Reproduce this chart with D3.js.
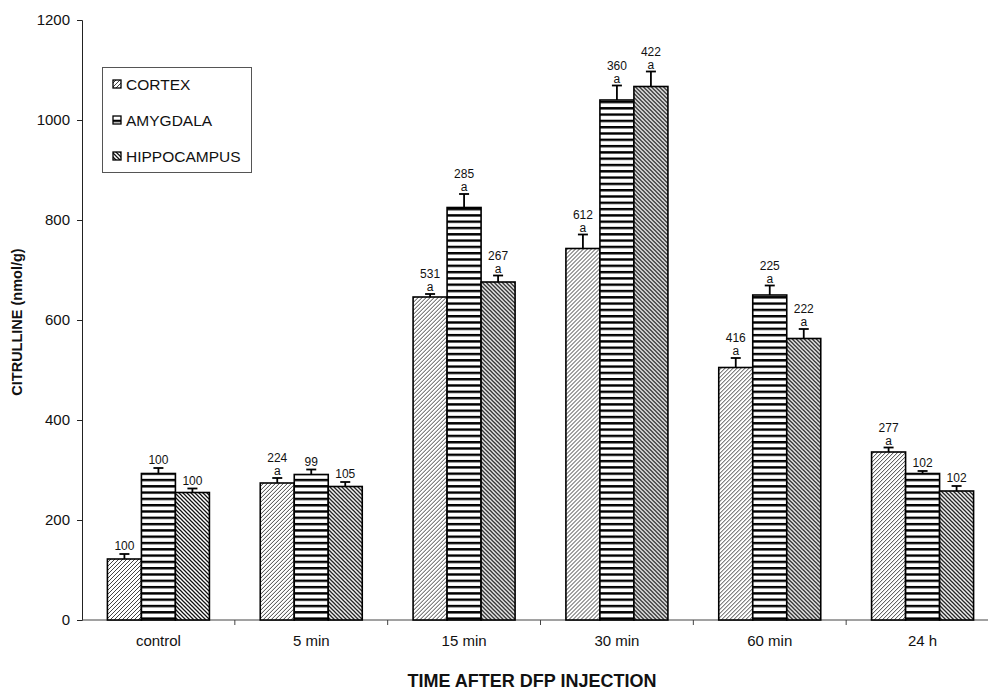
<!DOCTYPE html>
<html>
<head>
<meta charset="utf-8">
<script src="https://cdn.jsdelivr.net/npm/d3@7"></script>
<style>
  html, body { margin: 0; padding: 0; background: #fff; }
  svg { display: block; font-family: "Liberation Sans", Arial, sans-serif; }
</style>
</head>
<body>
<svg id="chart" width="988" height="690"></svg>
<script>
// ---------- data ----------
const categories = ["control", "5 min", "15 min", "30 min", "60 min", "24 h"];
const seriesNames = ["CORTEX", "AMYGDALA", "HIPPOCAMPUS"];

const cortex      = [122, 274, 646, 743, 505, 336];
const amygdala    = [293, 291, 825, 1040, 650, 293];
const hippocampus = [255, 267, 676, 1067, 563, 258];

const cortexErr      = [10, 10, 6, 28, 19, 9];
const amygdalaErr    = [11, 10, 27, 29, 19, 5];
const hippocampusErr = [8, 9, 13, 30, 19, 10];

const cortexPct      = ["100", "224", "531", "612", "416", "277"];
const amygdalaPct    = ["100", "99", "285", "360", "225", "102"];
const hippocampusPct = ["100", "105", "267", "422", "222", "102"];

const cortexSig      = [false, true, true, true, true, true];
const amygdalaSig    = [false, false, true, true, true, false];
const hippocampusSig = [false, false, true, true, true, false];

const yTicks = [0, 200, 400, 600, 800, 1000, 1200];

const seriesTable = [
  { name: seriesNames[0], values: cortex, errs: cortexErr, pct: cortexPct, sig: cortexSig, fill: "url(#pCortex)" },
  { name: seriesNames[1], values: amygdala, errs: amygdalaErr, pct: amygdalaPct, sig: amygdalaSig, fill: "url(#pAmyg)" },
  { name: seriesNames[2], values: hippocampus, errs: hippocampusErr, pct: hippocampusPct, sig: hippocampusSig, fill: "url(#pHippo)" }
];

// ---------- setup ----------
const svg = d3.select("#chart");
svg.append("rect").attr("width", 988).attr("height", 690).attr("fill", "#fff");

const defs = svg.append("defs");
// cortex: forward diagonal "/"
const pc = defs.append("pattern").attr("id", "pCortex").attr("patternUnits", "userSpaceOnUse")
  .attr("width", 4).attr("height", 4);
pc.append("rect").attr("width", 4).attr("height", 4).attr("fill", "#fff");
pc.append("path").attr("d", "M-1,1 l2,-2 M0,4 l4,-4 M3,5 l2,-2")
  .attr("stroke", "#444").attr("stroke-width", 1);
// amygdala: horizontal lines
const pa = defs.append("pattern").attr("id", "pAmyg").attr("patternUnits", "userSpaceOnUse")
  .attr("width", 10).attr("height", 6.3);
pa.append("rect").attr("width", 10).attr("height", 6.3).attr("fill", "#fff");
pa.append("rect").attr("y", 0).attr("width", 10).attr("height", 2.4).attr("fill", "#000");
// hippocampus: back diagonal "\"
const ph = defs.append("pattern").attr("id", "pHippo").attr("patternUnits", "userSpaceOnUse")
  .attr("width", 4).attr("height", 4);
ph.append("rect").attr("width", 4).attr("height", 4).attr("fill", "#fff");
ph.append("path").attr("d", "M-1,3 l2,2 M0,0 l4,4 M3,-1 l2,2")
  .attr("stroke", "#111").attr("stroke-width", 1.25);

// ---------- scales ----------
const y = d3.scaleLinear().domain([0, 1200]).range([620, 20]);
const x0 = d3.scaleBand().domain(categories).range([82, 999]).paddingInner(0).paddingOuter(0);
const groupW = 102;
const x1 = d3.scaleBand().domain(seriesNames)
  .range([(x0.bandwidth() - groupW) / 2, (x0.bandwidth() + groupW) / 2]);

// ---------- y axis ----------
const yAxis = svg.append("g").attr("transform", "translate(82,0)")
  .call(d3.axisLeft(y).tickValues(yTicks).tickSize(5).tickPadding(7).tickFormat(d3.format("d")));
yAxis.select(".domain").attr("stroke", "#222").attr("stroke-width", 1);
yAxis.selectAll(".tick line").attr("stroke", "#222");
yAxis.selectAll(".tick text").attr("font-size", 15).attr("fill", "#111")
  .attr("font-family", "Liberation Sans, Arial, sans-serif");

// ---------- x axis ----------
svg.append("line").attr("x1", 82).attr("x2", 988).attr("y1", y(0)).attr("y2", y(0))
  .attr("stroke", "#444").attr("stroke-width", 1);
svg.append("g").selectAll("line").data(categories.slice(1)).join("line")
  .attr("x1", d => x0(d)).attr("x2", d => x0(d))
  .attr("y1", y(0)).attr("y2", y(0) + 5)
  .attr("stroke", "#444").attr("stroke-width", 1);
svg.append("g").selectAll("text").data(categories).join("text")
  .attr("x", d => x0(d) + x0.bandwidth() / 2)
  .attr("y", 646)
  .attr("text-anchor", "middle")
  .attr("font-size", 15)
  .attr("fill", "#111")
  .text(d => d);

// ---------- bars ----------
const groups = svg.append("g").selectAll("g").data(categories).join("g")
  .attr("transform", d => `translate(${x0(d)},0)`);

groups.each(function(cat, ci) {
  const g = d3.select(this);
  seriesTable.forEach(s => {
    const v = s.values[ci], e = s.errs[ci];
    const bx = x1(s.name), bw = x1.bandwidth();
    const cx = bx + bw / 2;
    // error bar (upward only)
    g.append("line").attr("x1", cx).attr("x2", cx).attr("y1", y(v)).attr("y2", y(v + e))
      .attr("stroke", "#000").attr("stroke-width", 1.8);
    g.append("line").attr("x1", cx - 5).attr("x2", cx + 5).attr("y1", y(v + e)).attr("y2", y(v + e))
      .attr("stroke", "#000").attr("stroke-width", 1.8);
    g.append("rect").attr("x", bx).attr("y", y(v)).attr("width", bw).attr("height", y(0) - y(v))
      .attr("fill", s.fill).attr("stroke", "#000").attr("stroke-width", 1.6);
    // labels
    const top = y(v + e);
    if (s.sig[ci]) {
      g.append("text").attr("x", cx).attr("y", top - 3).attr("text-anchor", "middle")
        .attr("font-size", 12).attr("fill", "#111").text("a");
      g.append("text").attr("x", cx).attr("y", top - 16).attr("text-anchor", "middle")
        .attr("font-size", 12).attr("fill", "#111").text(s.pct[ci]);
    } else {
      g.append("text").attr("x", cx).attr("y", top - 4).attr("text-anchor", "middle")
        .attr("font-size", 12).attr("fill", "#111").text(s.pct[ci]);
    }
  });
});

// ---------- legend ----------
const lg = svg.append("g");
lg.append("rect").attr("x", 102.5).attr("y", 67.5).attr("width", 149).attr("height", 105)
  .attr("fill", "#fff").attr("stroke", "#555").attr("stroke-width", 1);
seriesTable.forEach((s, i) => {
  const cy = 84 + i * 36;
  lg.append("rect").attr("x", 113).attr("y", cy - 4).attr("width", 8).attr("height", 8)
    .attr("fill", s.fill).attr("stroke", "#000").attr("stroke-width", 1.3);
  lg.append("text").attr("x", 126).attr("y", cy + 5.5).attr("font-size", 15.5).attr("fill", "#111").text(s.name);
});

// ---------- axis titles ----------
svg.append("text").attr("x", 532).attr("y", 687).attr("text-anchor", "middle")
  .attr("font-size", 18).attr("font-weight", "bold").attr("fill", "#111")
  .text("TIME AFTER DFP INJECTION");
svg.append("text").attr("transform", "translate(22,322) rotate(-90)").attr("text-anchor", "middle")
  .attr("font-size", 14.5).attr("font-weight", "bold").attr("fill", "#111")
  .text("CITRULLINE (nmol/g)");
</script>
</body>
</html>
